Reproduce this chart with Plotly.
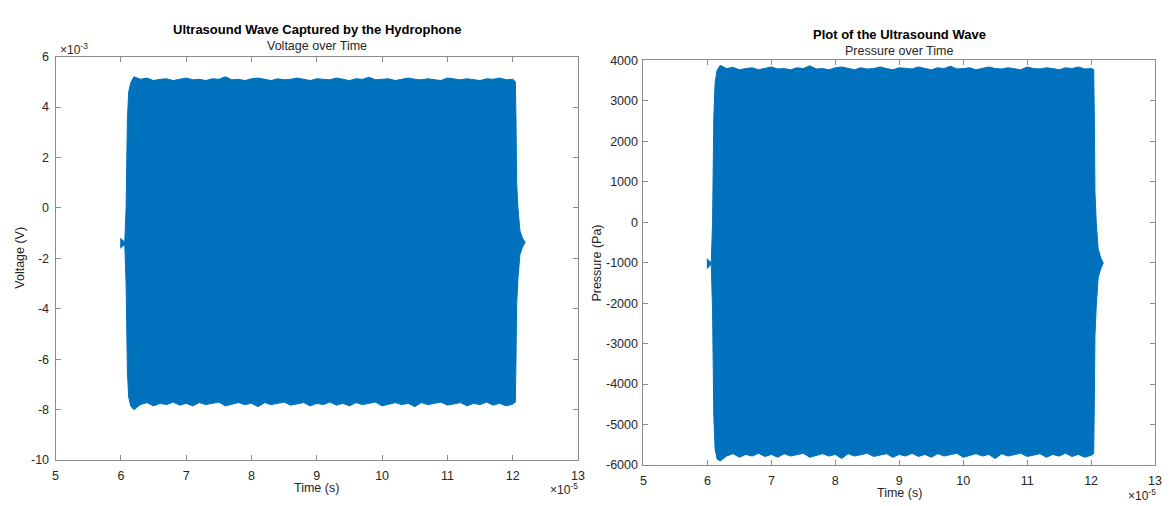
import plotly.graph_objects as go

# ---------------- data ----------------
# Time values in units of 1e-5 s, voltage in units of 1e-3 V, pressure in Pa
t_env = [6.2, 6.3, 6.4, 6.5, 6.6, 6.7, 6.8, 6.9, 7.0, 7.1, 7.2, 7.3, 7.4, 7.5, 7.6, 7.7,
         7.8, 7.9, 8.0, 8.1, 8.2, 8.3, 8.4, 8.5, 8.6, 8.7, 8.8, 8.9, 9.0, 9.1, 9.2, 9.3,
         9.4, 9.5, 9.6, 9.7, 9.8, 9.9, 10.0, 10.1, 10.2, 10.3, 10.4, 10.5, 10.6, 10.7,
         10.8, 10.9, 11.0, 11.1, 11.2, 11.3, 11.4, 11.5, 11.6, 11.7, 11.8, 11.9, 12.0]

volt_upper = [5.2, 5.1, 5.15, 5.05, 5.1, 5.12, 5.05, 5.1, 5.15, 5.08, 5.1, 5.05, 5.12,
              5.1, 5.2, 5.08, 5.1, 5.05, 5.12, 5.15, 5.1, 5.05, 5.12, 5.08, 5.1, 5.15,
              5.1, 5.05, 5.12, 5.1, 5.08, 5.15, 5.1, 5.05, 5.12, 5.1, 5.18, 5.08, 5.1,
              5.12, 5.05, 5.1, 5.15, 5.1, 5.08, 5.12, 5.1, 5.05, 5.15, 5.1, 5.08, 5.12,
              5.1, 5.05, 5.12, 5.1, 5.15, 5.08, 5.1]
volt_lower = [-8.0, -7.8, -7.72, -7.85, -7.75, -7.8, -7.7, -7.82, -7.75, -7.85, -7.72,
              -7.8, -7.75, -7.7, -7.85, -7.78, -7.72, -7.8, -7.75, -7.88, -7.72, -7.8,
              -7.75, -7.7, -7.82, -7.78, -7.72, -7.85, -7.75, -7.8, -7.7, -7.82, -7.75,
              -7.85, -7.72, -7.8, -7.75, -7.7, -7.85, -7.78, -7.72, -7.8, -7.75, -7.88,
              -7.72, -7.8, -7.75, -7.7, -7.82, -7.78, -7.72, -7.85, -7.75, -7.8, -7.7,
              -7.82, -7.75, -7.85, -7.78]

press_upper = [3880, 3800, 3830, 3770, 3800, 3820, 3770, 3800, 3840, 3790, 3800, 3770,
               3820, 3800, 3870, 3790, 3800, 3770, 3820, 3840, 3800, 3770, 3820, 3790,
               3800, 3840, 3800, 3770, 3820, 3800, 3790, 3840, 3800, 3770, 3820, 3800,
               3860, 3790, 3800, 3820, 3770, 3800, 3840, 3800, 3790, 3820, 3800, 3770,
               3840, 3800, 3790, 3820, 3800, 3770, 3820, 3800, 3840, 3790, 3800]
press_lower = [-5900, -5780, -5720, -5810, -5740, -5780, -5710, -5790, -5740, -5810,
               -5720, -5780, -5740, -5710, -5810, -5760, -5720, -5780, -5740, -5840,
               -5720, -5780, -5740, -5710, -5790, -5760, -5720, -5810, -5740, -5780,
               -5710, -5790, -5740, -5810, -5720, -5780, -5740, -5710, -5810, -5760,
               -5720, -5780, -5740, -5840, -5720, -5780, -5740, -5710, -5790, -5760,
               -5720, -5810, -5740, -5780, -5710, -5790, -5740, -5810, -5760]

# onset (left edge, including the small start spike) and decay (right edge)
t_onset = [5.99, 6.06, 6.08, 6.10, 6.12, 6.15]
volt_onset_up = [-1.2, -1.35, 0.0, 3.5, 4.6, 4.95]
volt_onset_lo = [-1.6, -1.45, -3.0, -6.5, -7.5, -7.85]
press_onset_up = [-900, -1000, 0, 2600, 3450, 3750]
press_onset_lo = [-1150, -1040, -2200, -4800, -5600, -5850]

t_decay = [12.04, 12.05, 12.06, 12.08, 12.11, 12.15, 12.19]
volt_decay_up = [5.0, 3.5, 1.0, 0.0, -0.9, -1.2, -1.36]
volt_decay_lo = [-7.7, -6.0, -3.8, -2.8, -1.85, -1.55, -1.36]
press_decay_up = [3780, 2600, 750, 0, -650, -880, -1010]
press_decay_lo = [-5720, -4450, -2800, -2080, -1370, -1150, -1010]

x_ticks = [5, 6, 7, 8, 9, 10, 11, 12, 13]
volt_ticks = [-10, -8, -6, -4, -2, 0, 2, 4, 6]
press_ticks = [-6000, -5000, -4000, -3000, -2000, -1000, 0, 1000, 2000, 3000, 4000]

BLUE = "rgb(0,114,189)"
FONT = "Liberation Sans, Arial, Helvetica, sans-serif"
TXT = "#262626"
AX = "#8c8c8c"
W, H = 1171, 506


def band(t_on, on_up, on_lo, up, lo, dec_up, dec_lo):
    xs = t_on + t_env + t_decay + t_decay[::-1] + t_env[::-1] + t_on[::-1]
    ys = on_up + up + dec_up + dec_lo[::-1] + lo[::-1] + on_lo[::-1]
    return xs, ys


fig = go.Figure()
vx, vy = band(t_onset, volt_onset_up, volt_onset_lo, volt_upper, volt_lower,
              volt_decay_up, volt_decay_lo)
fig.add_trace(go.Scatter(x=vx, y=vy, mode="lines", fill="toself", fillcolor=BLUE,
                         line=dict(color=BLUE, width=1), xaxis="x", yaxis="y",
                         showlegend=False, hoverinfo="skip"))
px_, py_ = band(t_onset, press_onset_up, press_onset_lo, press_upper, press_lower,
                press_decay_up, press_decay_lo)
fig.add_trace(go.Scatter(x=px_, y=py_, mode="lines", fill="toself", fillcolor=BLUE,
                         line=dict(color=BLUE, width=1), xaxis="x2", yaxis="y2",
                         showlegend=False, hoverinfo="skip"))

# plot area pixel boxes
L = dict(x0=53, x1=580, y0=51, y1=466)
R = dict(x0=646, x1=1162, y0=55, y1=471)


def dom(b):
    return [b["x0"] / W, b["x1"] / W], [1 - b["y1"] / H, 1 - b["y0"] / H]


lxd, lyd = dom(L)
rxd, ryd = dom(R)

axis_common = dict(showline=True, linecolor=AX, linewidth=1, mirror="ticks",
                   ticks="inside", ticklen=5, tickcolor=AX, tickwidth=1,
                   showgrid=False, zeroline=False,
                   tickfont=dict(family=FONT, size=12.5, color=TXT))


def labels(vals):
    return [str(v) for v in vals]  # plain hyphen-minus like the reference


fig.update_layout(
    width=W, height=H, margin=dict(l=0, r=0, t=0, b=0),
    paper_bgcolor="white", plot_bgcolor="white",
    xaxis=dict(domain=lxd, range=[5, 13], tickvals=x_ticks, ticktext=labels(x_ticks),
               anchor="y", ticklabelstandoff=4, **axis_common),
    yaxis=dict(domain=lyd, range=[-10, 6], tickvals=volt_ticks, ticktext=labels(volt_ticks),
               anchor="x", ticklabelstandoff=3, **axis_common),
    xaxis2=dict(domain=rxd, range=[5, 13], tickvals=x_ticks, ticktext=labels(x_ticks),
                anchor="y2", ticklabelstandoff=4, **axis_common),
    yaxis2=dict(domain=ryd, range=[-6000, 4000], tickvals=press_ticks,
                ticktext=labels(press_ticks), anchor="x2", ticklabelstandoff=2,
                **axis_common),
)


def ann(text, xpx, ypx, size=12.5, bold=False, xanchor="center", yanchor="middle", angle=0):
    if bold:
        text = "<b>" + text + "</b>"
    fig.add_annotation(text=text, x=xpx / W, y=1 - ypx / H, xref="paper", yref="paper",
                       showarrow=False, xanchor=xanchor, yanchor=yanchor, textangle=angle,
                       font=dict(family=FONT, size=size, color="black" if bold else TXT))


# titles
ann("Ultrasound Wave Captured by the Hydrophone", 316.5, 23, size=13, bold=True)
ann("Voltage over Time", 316.5, 40, size=12.5)
ann("Plot of the Ultrasound Wave", 904, 28, size=13, bold=True)
ann("Pressure over Time", 904, 45, size=12.5)

# axis labels
ann("Time (s)", 316.5, 495)
ann("Time (s)", 904, 499.5)
ann("Voltage (V)", 17, 258, angle=-90)
ann("Pressure (Pa)", 599, 263, angle=-90)

# exponent labels
ann("×10<sup>-3</sup>", 55, 43, size=12, xanchor="left")
ann("×10<sup>-5</sup>", 582, 496, size=12, xanchor="right")
ann("×10<sup>-5</sup>", 1165, 502, size=12, xanchor="right")

fig.write_html("out.html")
